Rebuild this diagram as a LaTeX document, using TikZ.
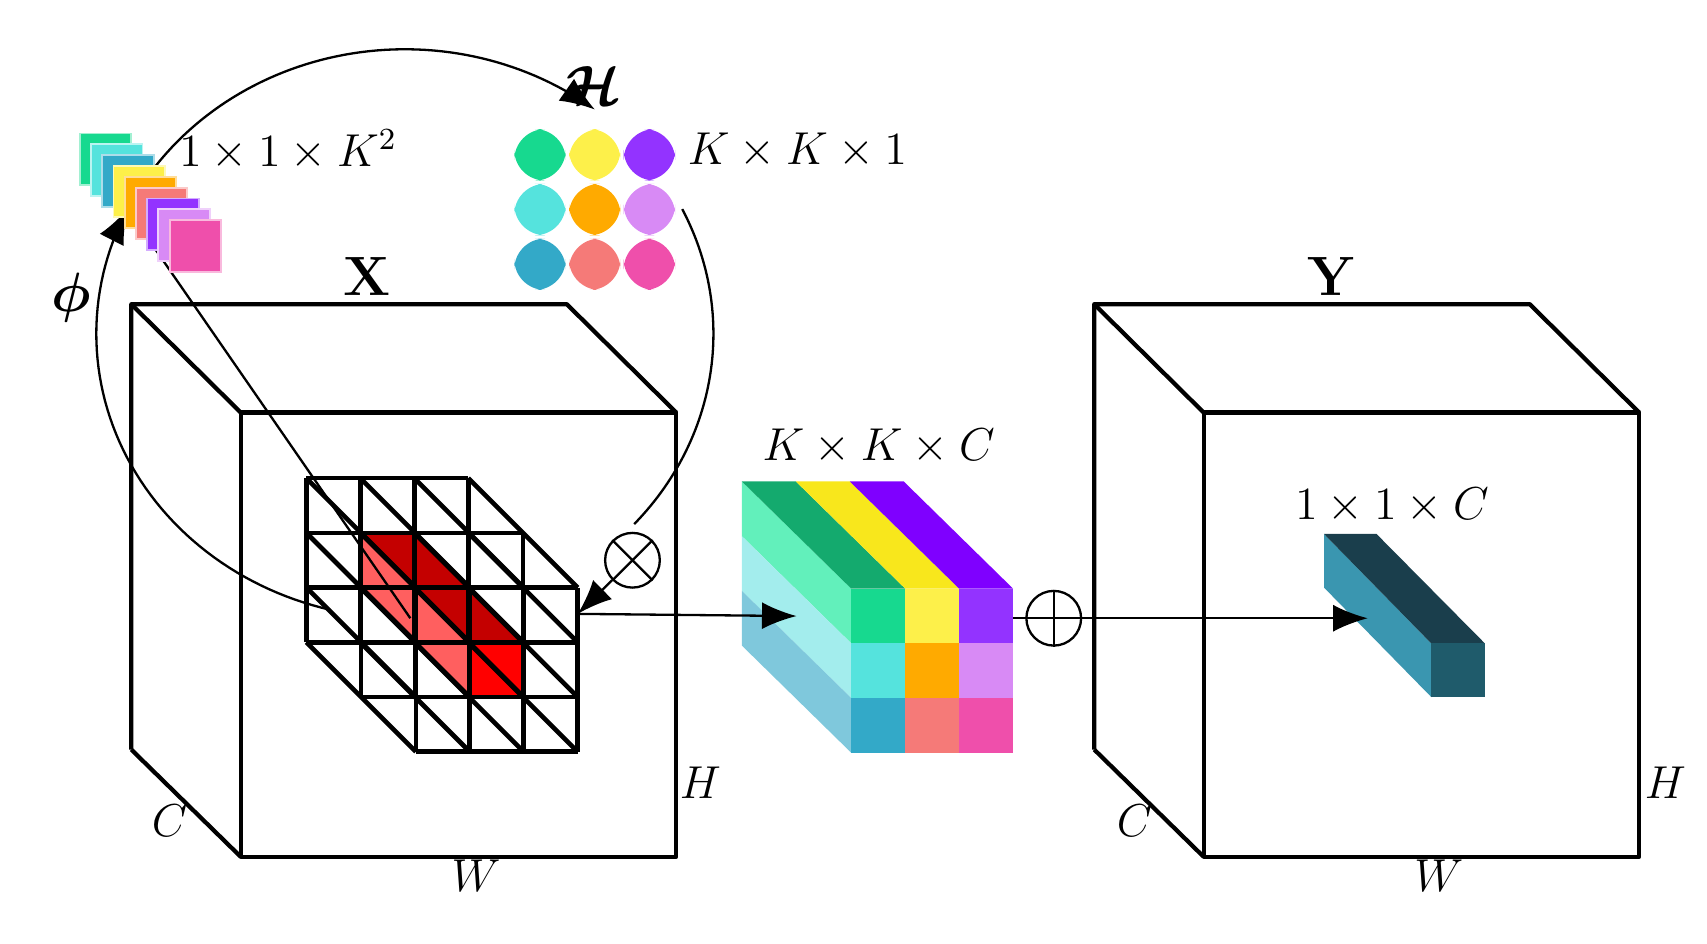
\documentclass[tikz,border=0pt]{standalone}
\usepackage{amsmath,amssymb,bm}
\usetikzlibrary{arrows.meta}
\definecolor{cg}{HTML}{17D98F}\definecolor{cc}{HTML}{55E3DD}\definecolor{cb}{HTML}{33A9C8}
\definecolor{cy}{HTML}{FDF04A}\definecolor{co}{HTML}{FFAA00}\definecolor{cs}{HTML}{F57A78}
\definecolor{cp}{HTML}{9333FF}\definecolor{cv}{HTML}{D88AF5}\definecolor{ck}{HTML}{EF4FAB}
\definecolor{tg}{HTML}{14AA6E}\definecolor{ty}{HTML}{F8E71C}\definecolor{tp}{HTML}{7F00FF}
\definecolor{sg}{HTML}{62F0BB}\definecolor{sc}{HTML}{A3EDED}\definecolor{sb}{HTML}{7FC8DC}
\definecolor{lr}{HTML}{FF5F5F}\definecolor{dr}{HTML}{C40000}
\definecolor{bt}{HTML}{1A3E4C}\definecolor{bf}{HTML}{1F5B6B}\definecolor{bl}{HTML}{3A96B0}
\begin{document}
\begin{tikzpicture}[x=0.1mm,y=-0.1mm,
  cube/.style={line width=1.1pt,line join=round},
  grid/.style={line width=1.2pt},
  lbl/.style={font=\large,inner sep=0pt},
  arr/.style={-{Latex[length=9pt,width=7pt]},line width=0.6pt},
  thin/.style={line width=0.6pt}]
\useasboundingbox (0,0) rectangle (1560,862);
% cubes
\foreach \ox in {0,880}{
 \begin{scope}[xshift=\ox*0.1mm]
 \draw[cube] (120,685) -- (120,278) -- (518,278) -- (618,377);
 \draw[cube] (120,278) -- (220,377);
 \draw[cube] (120,685) -- (220,783);
 \draw[cube] (220,377) rectangle (618,783);
 \end{scope}}
\node[inner sep=0pt,font=\Large] (X) at (335,253) {$\mathbf{X}$};
\node[inner sep=0pt,font=\Large] (Y) at (1217,253) {$\mathbf{Y}$};
\node[lbl] (C1) at (155,750) {$C$};
\node[lbl] (H1) at (640,715) {$H$};
\node[lbl] (W1) at (435,800) {$W$};
\node[lbl] (C2) at (1037,750) {$C$};
\node[lbl] (H2) at (1522,715) {$H$};
\node[lbl] (W2) at (1315,800) {$W$};
% grid red fills
\fill[dr] (330,488) -- (380,488) -- (480,588) -- (430,588) -- cycle;
\fill[lr] (330,488) -- (430,588) -- (430,638) -- (330,538) -- cycle;
\fill[red] (430,588) rectangle (480,638);
% grid wireframe
\foreach \k in {0,1,2}{
 \foreach \i in {0,1,2,3}{
  \draw[grid] ({280+50*\k},{437+50*\k+50*\i}) -- ({428+50*\k},{437+50*\k+50*\i});
  \draw[grid] ({280+50*\k+49.3*\i},{437+50*\k}) -- ({280+50*\k+49.3*\i},{587+50*\k});
 }}
\foreach \i in {0,1,2,3}\foreach \j in {0,1,2,3}{
 \draw[grid] ({280+49.3*\i},{437+50*\j}) -- ({380+49.3*\i},{537+50*\j});}
\coordinate (g) at (528,561);
% ellipse arcs
\draw[thin] plot[domain=-104:-206,samples=60] ({370+282*cos(\x)},{305-260*sin(\x)}) -- (375,565);
\draw[arr] plot[domain=-200:-206,samples=5] ({370+282*cos(\x)},{305-260*sin(\x)});
\draw[thin] plot[domain=145:56,samples=60] ({370+282*cos(\x)},{305-260*sin(\x)});
\draw[arr] plot[domain=58:52,samples=5] ({370+282*cos(\x)},{305-260*sin(\x)});
\draw[thin] plot[domain=26:-42,samples=60] ({370+282*cos(\x)},{305-260*sin(\x)});
\node[draw,circle,minimum size=5mm,inner sep=0pt,line width=0.6pt] (ot) at (578,512) {};
\draw[thin] (ot.north west) -- (ot.south east) (ot.north east) -- (ot.south west);
\draw[arr] (ot) -- (g);
% feature stack
\foreach \c [count=\n from 0] in {cg,cc,cb,cy,co,cs,cp,cv,ck}{
 \fill[\c,draw=\c!40!white,line width=0.5pt] ({73+10.25*\n},{122+9.9*\n}) rectangle ++(47,47);}
\node[lbl,anchor=west] (k2) at (163,137) {$1\times1\times K^2$};
\node[inner sep=0pt,font=\Large] (phi) at (65,272) {$\bm{\phi}$};
% H matrix
\foreach \c [count=\n from 0] in {cg,cy,cp,cc,co,cv,cb,cs,ck}{
 \pgfmathtruncatemacro\r{int(\n/3)}\pgfmathtruncatemacro\q{mod(\n,3)}
 \fill[\c,rounded corners=8pt] ({470+50*\q},{118+50*\r}) rectangle ++(47,47);}
\node[inner sep=0pt,font=\Large] (Hc) at (543,78) {$\bm{\mathcal{H}}$};
\node[lbl,anchor=west] (kk1) at (628,138) {$K\times K\times 1$};
% middle block
\foreach \c [count=\n from 0] in {sg,sc,sb}{
 \fill[\c] (678,{440+50*\n}) -- (778,{538+50*\n}) -- (778,{588+50*\n}) -- (678,{490+50*\n}) -- cycle;}
\foreach \c [count=\n from 0] in {tg,ty,tp}{
 \fill[\c] ({678+49.3*\n},440) -- ({727.3+49.3*\n},440) -- ({827.3+49.3*\n},538) -- ({778+49.3*\n},538) -- cycle;}
\foreach \c [count=\n from 0] in {cg,cy,cp,cc,co,cv,cb,cs,ck}{
 \pgfmathtruncatemacro\r{int(\n/3)}\pgfmathtruncatemacro\q{mod(\n,3)}
 \fill[\c] ({778+49.3*\q},{538+50*\r}) rectangle ++(49.5,50.2);}
\node[lbl] (kkc) at (803,408) {$K\times K\times C$};
\coordinate (m) at (728,563);
\draw[arr] (g) -- (m);
% oplus
\node[draw,circle,minimum size=5mm,inner sep=0pt,line width=0.6pt] (op) at (963,565) {};
\draw[thin] (op.north) -- (op.south) (op.west) -- (op.east);
\draw[thin] (926,565) -- (op.west);
% bar
\fill[bl] (1210,488) -- (1308,588) -- (1308,637) -- (1210,537) -- cycle;
\fill[bt] (1210,488) -- (1258,488) -- (1357,588) -- (1308,588) -- cycle;
\fill[bf] (1308,588) rectangle (1357,637);
\node[lbl] (b11) at (1272,462) {$1\times1\times C$};
\coordinate (b) at (1250,565);
\draw[arr] (op.east) -- (b);
\end{tikzpicture}
\end{document}
